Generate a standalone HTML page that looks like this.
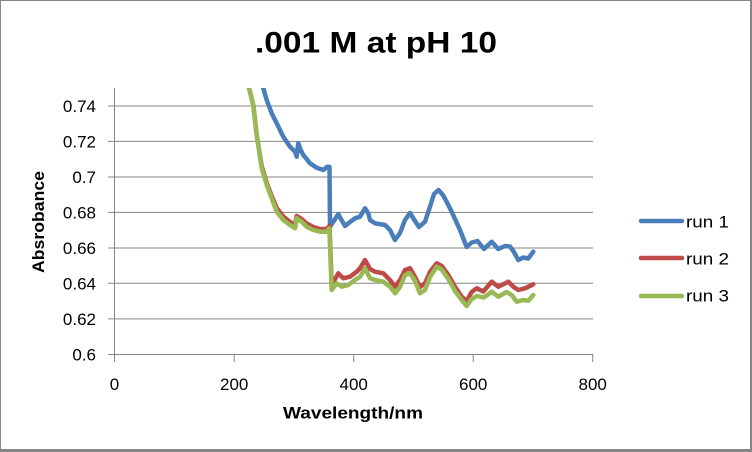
<!DOCTYPE html>
<html><head><meta charset="utf-8"><style>
html,body{margin:0;padding:0;background:#fff;}
svg{display:block;}
text{font-family:"Liberation Sans",Arial,sans-serif;fill:#000;}
</style></head><body>
<svg width="752" height="452" viewBox="0 0 752 452" xmlns="http://www.w3.org/2000/svg">
<rect x="0" y="0" width="752" height="452" fill="#fff"/>
<!-- outer border -->
<rect x="0" y="0" width="752" height="1" fill="#868686"/>
<rect x="0" y="0" width="1" height="452" fill="#868686"/>
<rect x="750" y="0" width="2" height="452" fill="#868686"/>
<rect x="0" y="449" width="752" height="3" fill="#868686"/>

<text x="376" y="52.7" font-size="30" font-weight="bold" text-anchor="middle" textLength="242" lengthAdjust="spacingAndGlyphs">.001 M at pH 10</text>

<defs><clipPath id="pc"><rect x="114" y="88" width="480" height="267"/></clipPath></defs>

<g stroke="#868686" stroke-width="1" fill="none">
<line x1="108" y1="106" x2="593" y2="106"/>
<line x1="108" y1="141.4" x2="593" y2="141.4"/>
<line x1="108" y1="177" x2="593" y2="177"/>
<line x1="108" y1="212.4" x2="593" y2="212.4"/>
<line x1="108" y1="248" x2="593" y2="248"/>
<line x1="108" y1="283.3" x2="593" y2="283.3"/>
<line x1="108" y1="318.9" x2="593" y2="318.9"/>
<line x1="108" y1="354.5" x2="593" y2="354.5"/>
<line x1="114.5" y1="88" x2="114.5" y2="362"/>
<line x1="234.2" y1="354" x2="234.2" y2="362"/>
<line x1="353.7" y1="354" x2="353.7" y2="362"/>
<line x1="473.2" y1="354" x2="473.2" y2="362"/>
<line x1="592.7" y1="354" x2="592.7" y2="362"/>
</g>

<g font-size="17" text-anchor="end">
<text x="96" y="112">0.74</text>
<text x="96" y="147.4">0.72</text>
<text x="96" y="183">0.7</text>
<text x="96" y="218.4">0.68</text>
<text x="96" y="254">0.66</text>
<text x="96" y="289.3">0.64</text>
<text x="96" y="324.9">0.62</text>
<text x="96" y="360.5">0.6</text>
</g>
<g font-size="17" text-anchor="middle">
<text x="114.5" y="390">0</text>
<text x="234.2" y="390">200</text>
<text x="353.7" y="390">400</text>
<text x="473.2" y="390">600</text>
<text x="592.7" y="390">800</text>
</g>

<text x="353" y="418.3" font-size="17" font-weight="bold" text-anchor="middle" textLength="140" lengthAdjust="spacingAndGlyphs">Wavelength/nm</text>
<text transform="translate(44,222) rotate(-90)" x="0" y="0" font-size="17" font-weight="bold" text-anchor="middle" textLength="102" lengthAdjust="spacingAndGlyphs">Absrobance</text>

<g clip-path="url(#pc)" fill="none" stroke-width="4.5" stroke-linejoin="round" stroke-linecap="round">
<polyline stroke="#4a7ebb" points="262,84 263.3,88.3 266.7,100 271.7,113.3 276.7,123.3 283.3,136.7 290,146.7 295,151.7 296.7,156.7 298.3,143.3 300.7,150 303.3,155 310,163.3 316.7,167.7 323.3,170 327,167 328.3,166.7 329.5,167 330,226.7 333.3,221.7 338.3,214 340.5,218.3 345,226 350,222 355,218.3 360,216.7 365,208.3 368.3,213.3 370,220 375,223.3 385,225 390,230 395,240 400,233 405,220 410,213 415,221 419,227 425,221.7 430,206.7 434,194 438.5,190 443.3,195.5 450,208.3 455,219 460,230 466.7,247 471.7,242.5 477.5,241 484,249 491.7,241.7 498.3,249 505,246 510,246.5 513.3,251 518.3,260 523.3,257.5 528.3,258.5 533.3,251.7"/>
<polyline stroke="#be4b48" points="248,84 253.3,105 256.7,135 261.7,166 266.7,183 271.7,196 276.7,208 283.3,216.5 290,222 295,225 296.7,216 301.7,219 306.7,223.5 313.3,227 320,229 326.7,229 329.5,226 331.7,285 338.3,273.3 343.3,278.3 350,276.7 356.7,271.7 360,268.3 365,260 370,269 375,271.7 383.3,273.3 390,280 395,286.7 400,280 405,270 410,268.3 415,277 420,287 425,283.3 430,272 436.7,263.3 441.7,266 448.3,275 455,286.7 461.7,296.7 466.7,301 471.7,292 476.7,288.3 483.3,291.5 491.7,281.7 498.3,286.7 508.3,281.7 513.3,286.7 518.3,290 525,288.3 533.3,284.3"/>
<polyline stroke="#98b954" points="248,84 253.3,105 256.7,135 261.7,168.3 266.7,185 271.7,198.3 276.7,211.7 283.3,220 290,225 295,228.3 296.7,218.3 301.7,221.7 306.7,226.7 313.3,230 320,231.7 326.7,231.7 329.3,228.3 331.7,290 336.7,283.3 341.7,286.7 348.3,285 355,280 360,276.7 365,268.3 370,278.3 375,280 383.3,281.7 390,286.7 395,293.3 400,287 405,275 410,273.3 415,281 420,293.3 425,290 430,277 436.7,266.7 441.7,269.5 448.3,279 455,291 461.7,300 466.7,306 471.7,299 477,296 484,297.5 491.7,291.7 498.3,296.7 506.7,292 511.7,295 516.7,301.7 523.3,300 528.3,300.7 533.3,295"/>
</g>

<g stroke-width="4.5" stroke-linecap="round">
<line x1="641" y1="221" x2="682" y2="221" stroke="#4a7ebb"/>
<line x1="641" y1="258" x2="682" y2="258" stroke="#be4b48"/>
<line x1="641" y1="296" x2="682" y2="296" stroke="#98b954"/>
</g>
<g font-size="17">
<text x="686" y="227.3" textLength="43" lengthAdjust="spacingAndGlyphs">run 1</text>
<text x="686" y="264.3" textLength="43" lengthAdjust="spacingAndGlyphs">run 2</text>
<text x="686" y="301.7" textLength="43" lengthAdjust="spacingAndGlyphs">run 3</text>
</g>
</svg>
</body></html>
